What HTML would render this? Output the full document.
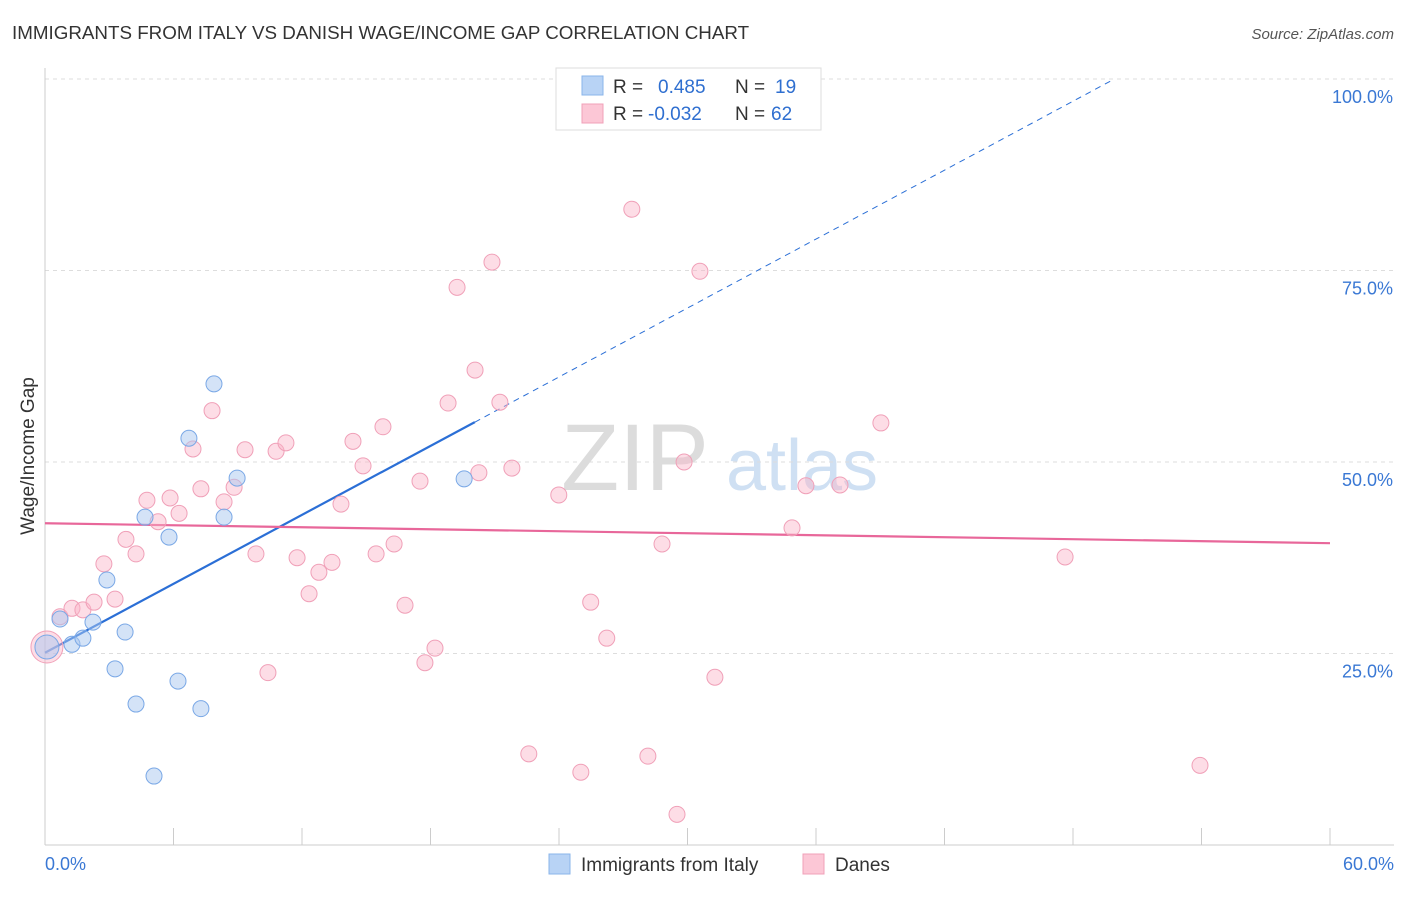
<!DOCTYPE html>
<html><head><meta charset="utf-8"><style>
body{margin:0;background:#fff;font-family:"Liberation Sans",sans-serif;}
svg text{font-family:"Liberation Sans",sans-serif;}
</style></head><body>
<svg id="chart" width="1406" height="892">
<text x="12" y="39" font-size="18.8" fill="#333">IMMIGRANTS FROM ITALY VS DANISH WAGE/INCOME GAP CORRELATION CHART</text>
<text x="1394" y="39" font-size="15" fill="#555" font-style="italic" text-anchor="end">Source: ZipAtlas.com</text>
<text x="34" y="456" font-size="19" fill="#333" text-anchor="middle" transform="rotate(-90 34 456)">Wage/Income Gap</text>
<g><text x="635" y="490" font-size="95" fill="#dcdcdc" font-family="Liberation Serif,serif" text-anchor="middle">ZIP</text><text x="802" y="490" font-size="72" fill="#cfe0f3" text-anchor="middle">atlas</text></g>
<g id="grid"></g><g id="axes"></g><g id="lines"></g><g id="pts"></g>
<g>
<rect x="556" y="68" width="265" height="62" fill="#fff" stroke="#ddd"/>
<rect x="582" y="76" width="21" height="19" fill="#b8d3f5" stroke="#8ab4ea"/>
<rect x="582" y="104" width="21" height="19" fill="#fcc7d6" stroke="#f0a0b8"/>
<text x="613" y="93" font-size="19" fill="#333">R = </text><text x="658" y="93" font-size="19" fill="#2f6fd0">0.485</text>
<text x="735" y="93" font-size="19" fill="#333">N = </text><text x="775" y="93" font-size="19" fill="#2f6fd0">19</text>
<text x="613" y="120" font-size="19" fill="#333">R = </text><text x="648" y="120" font-size="19" fill="#2f6fd0">-0.032</text>
<text x="735" y="120" font-size="19" fill="#333">N = </text><text x="771" y="120" font-size="19" fill="#2f6fd0">62</text>
</g>
<g>
<rect x="549" y="854" width="21" height="20" fill="#b8d3f5" stroke="#8ab4ea"/>
<text x="581" y="871" font-size="19" fill="#333">Immigrants from Italy</text>
<rect x="803" y="854" width="21" height="20" fill="#fcc7d6" stroke="#f0a0b8"/>
<text x="835" y="871" font-size="19" fill="#333">Danes</text>
</g>
</svg>
<script>
const xTicks=[0,6,12,18,24,30,36,42,48,54,60];
const yTicks=[25,50,75,100];
const italyX=[0.09,0.70,1.26,1.77,2.24,2.89,3.27,3.74,4.25,4.67,5.09,5.79,6.21,6.72,7.28,7.89,8.36,8.97,19.57];
const italyY=[25.85,29.5,26.2,27.0,29.1,34.6,23.0,27.8,18.4,42.8,9.0,40.2,21.4,53.1,17.8,60.2,42.8,47.9,47.8];
const danesX=[0.09,0.70,1.26,1.77,2.29,2.75,3.27,3.78,4.25,4.76,5.28,5.84,6.26,6.91,7.28,7.80,8.36,8.83,9.34,9.85,10.41,10.79,11.25,11.77,12.33,12.79,13.40,13.82,14.38,14.85,15.46,15.78,16.30,16.81,17.51,17.74,18.21,18.82,19.24,20.08,20.26,20.87,21.24,21.80,22.59,23.99,25.02,25.48,26.23,27.40,28.15,28.81,29.51,29.84,30.58,31.28,34.88,35.53,37.12,39.03,47.63,53.93];
const danesY=[25.85,29.8,30.9,30.7,31.7,36.7,32.1,39.9,38.0,45.0,42.2,45.3,43.3,51.7,46.5,56.7,44.8,46.7,51.6,38.0,22.5,51.4,52.5,37.5,32.8,35.6,36.9,44.5,52.7,49.5,38.0,54.6,39.3,31.3,47.5,23.8,25.7,57.7,72.8,62.0,48.6,76.1,57.8,49.2,11.9,45.7,9.5,31.7,27.0,83.0,11.6,39.3,4.0,50.0,74.9,21.9,41.4,46.9,47.0,55.1,37.6,10.4];
const italyFit=[25.1,1.5];
const danesFit=[42.0,-0.0433];
const NS='http://www.w3.org/2000/svg';
const sx=v=>45+v/60*1285;
const sy=v=>845-v/100*766;
function mk(t,a,p){const e=document.createElementNS(NS,t);for(const k in a)e.setAttribute(k,a[k]);document.getElementById(p).appendChild(e);return e;}
yTicks.forEach(t=>{
 const l=mk('line',{x1:45,x2:1394,y1:sy(t),y2:sy(t),stroke:'#ddd','stroke-dasharray':'4,4'},'grid');
 
 
 const tx=mk('text',{x:1393,y:sy(t)+24,'font-size':18,fill:'#3a78d4','text-anchor':'end'},'axes');
 tx.textContent=t.toFixed(1)+'%';
 
 
});
const ax=mk('line',{x1:45,x2:1394,y1:845,y2:845,stroke:'#ccc'},'axes');


const ay=mk('line',{x1:45,x2:45,y1:68,y2:845,stroke:'#ccc'},'axes');


xTicks.forEach(t=>{
 const l=mk('line',{x1:sx(t),x2:sx(t),y1:828,y2:845,stroke:'#ccc'},'axes');
 
 
});
[[0,'start',45],[60,'end',1394]].forEach(([v,a,x])=>{
 const tx=mk('text',{x:x,y:870,'font-size':18,fill:'#3a78d4','text-anchor':a},'axes');
 tx.textContent=v.toFixed(1)+'%';
 
 
});
const xmaxI=Math.max(...italyX);
const xEnd=(100-italyFit[0])/italyFit[1];
let l1=mk('line',{x1:sx(0),y1:sy(italyFit[0]),x2:sx(xmaxI+0.5),y2:sy(italyFit[0]+italyFit[1]*(xmaxI+0.5)),stroke:'#2b6fd6','stroke-width':2.2},'lines');


let l2=mk('line',{x1:sx(xmaxI+0.5),y1:sy(italyFit[0]+italyFit[1]*(xmaxI+0.5)),x2:sx(xEnd),y2:sy(100),stroke:'#2b6fd6','stroke-width':1,'stroke-dasharray':'6,5'},'lines');


let l3=mk('line',{x1:sx(0),y1:sy(danesFit[0]),x2:sx(60),y2:sy(danesFit[0]+danesFit[1]*60),stroke:'#e8679a','stroke-width':2.2},'lines');


danesX.forEach((x,i)=>{
 const c=mk('circle',{cx:sx(x),cy:sy(danesY[i]),r:i==0?16:8,fill:'rgba(250,180,200,0.45)',stroke:'#f0a0b8','stroke-width':1},'pts');
 
 
});
italyX.forEach((x,i)=>{
 const c=mk('circle',{cx:sx(x),cy:sy(italyY[i]),r:i==0?12:8,fill:'rgba(170,200,240,0.5)',stroke:'#7aa8e6','stroke-width':1},'pts');
 
 
});
</script>
</body></html>
